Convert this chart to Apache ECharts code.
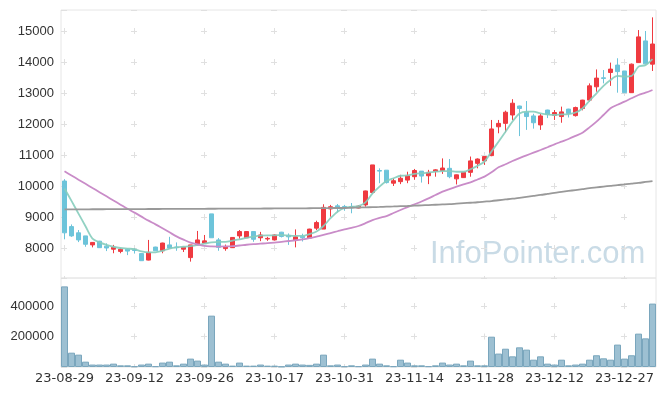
<!DOCTYPE html>
<html><head><meta charset="utf-8">
<script src="https://cdn.jsdelivr.net/npm/echarts@6/dist/echarts.min.js"></script>
<style>html,body{margin:0;padding:0;background:#fff}#c{width:665px;height:396px}</style>
</head><body><div id="c"></div>
<script>
const dates = ['23-08-29','23-08-30','23-08-31','23-09-01','23-09-04','23-09-05','23-09-06','23-09-07','23-09-08','23-09-11',
'23-09-12','23-09-13','23-09-14','23-09-15','23-09-18','23-09-19','23-09-20','23-09-21','23-09-22','23-09-25',
'23-09-26','23-09-27','23-10-04','23-10-05','23-10-06','23-10-10','23-10-11','23-10-12','23-10-13','23-10-16',
'23-10-17','23-10-18','23-10-19','23-10-20','23-10-23','23-10-24','23-10-25','23-10-26','23-10-27','23-10-30',
'23-10-31','23-11-01','23-11-02','23-11-03','23-11-06','23-11-07','23-11-08','23-11-09','23-11-10','23-11-13',
'23-11-14','23-11-15','23-11-16','23-11-17','23-11-20','23-11-21','23-11-22','23-11-23','23-11-24','23-11-27',
'23-11-28','23-11-29','23-11-30','23-12-01','23-12-04','23-12-05','23-12-06','23-12-07','23-12-08','23-12-11',
'23-12-12','23-12-13','23-12-14','23-12-15','23-12-18','23-12-19','23-12-20','23-12-21','23-12-22','23-12-26',
'23-12-27','23-12-28','24-01-02','24-01-03','24-01-04'];

const opens = [10160,8690,8490,8390,8100,8220,8060,7960,7890,7960,
7940,7820,7610,8030,7910,8100,8030,7960,7690,8100,
8160,9100,8260,7980,8010,8390,8330,8530,8330,8290,
8260,8510,8410,8260,8380,8320,8640,8610,9260,9360,
9340,9330,9290,9390,9790,10500,10510,10090,10140,10190,
10300,10480,10330,10470,10500,10570,10230,10270,10440,10730,
10810,10980,11910,12020,12290,12580,12380,12260,11970,12450,
12280,12240,12480,12270,12500,12770,13200,13490,13660,13900,
13710,13010,13980,14680,13930];
const closes = [8490,8390,8260,8120,8180,8010,8000,8020,7960,7900,
7920,7590,7860,7910,8160,8000,8010,8020,8100,8260,
8230,8330,8020,8040,8340,8530,8530,8280,8420,8310,
8420,8370,8360,8360,8330,8610,8820,9310,9330,9290,
9290,9300,9350,9840,10680,10480,10110,10170,10250,10330,
10500,10320,10440,10520,10580,10300,10360,10440,10810,10870,
10950,11840,12020,12380,12670,12500,12240,12040,12260,12310,
12370,12390,12340,12530,12770,13230,13480,13470,13770,13690,
13010,13930,14810,13940,14580];
const lows = [8280,8360,8190,8040,8020,8000,7900,7830,7830,7770,
7820,7590,7600,7910,7830,7990,7910,7870,7560,8090,
8150,8330,7910,7910,8000,8300,8330,8200,8220,8230,
8240,8340,8100,8020,8210,8320,8580,8610,9010,9150,
9200,9120,9280,9330,9750,10090,10080,10000,10060,10090,
10200,10110,10060,10300,10390,10250,10050,10260,10300,10570,
10680,10960,11700,11730,12130,11610,11810,11850,11810,12190,
12130,12040,12210,12240,12440,12720,13040,13310,13230,13010,
13010,13000,13970,13930,13710];
const highs = [10220,8760,8580,8390,8190,8230,8150,8100,8000,7980,
7990,7830,8260,8040,8170,8360,8180,8040,8100,8550,
8420,9100,8320,8110,8350,8580,8540,8530,8520,8360,
8440,8520,8470,8600,8460,8620,8880,9410,9390,9420,
9390,9450,9380,9850,10680,10570,10510,10250,10360,10460,
10550,10480,10520,10540,10890,10870,10370,10450,10950,10890,
10960,12130,12130,12430,12800,12590,12740,12330,12330,12460,
12450,12560,12490,12560,12780,13310,13760,13740,13980,14120,
13710,13950,15030,15000,15440];
const volumes = [529000,94000,81000,35000,16000,16000,16000,22000,11000,11000,
5000,16000,22000,5000,29000,35000,11000,22000,55000,42000,
16000,337000,35000,22000,9000,29000,9000,9000,16000,9000,
9000,3000,16000,22000,16000,14000,22000,81000,11000,16000,
5000,11000,5000,16000,55000,22000,11000,5000,48000,29000,
11000,11000,5000,11000,29000,16000,22000,11000,42000,11000,
11000,199000,88000,120000,70000,129000,114000,48000,70000,22000,
16000,48000,11000,16000,22000,48000,77000,57000,48000,147000,
55000,77000,219000,188000,416000];
const ma5 = [9920,9520,9110,8700,8300,8180,8100,8040,8000,7980,
7960,7890,7860,7860,7910,7980,8020,8040,8060,8100,
8140,8180,8200,8200,8240,8280,8330,8370,8400,8410,
8410,8420,8400,8390,8390,8450,8530,8710,8960,9170,
9290,9330,9350,9470,9760,9980,10160,10250,10330,10340,
10390,10410,10430,10460,10480,10480,10460,10460,10540,10650,
10790,11110,11430,11750,12080,12340,12400,12400,12340,12310,
12290,12310,12320,12370,12500,12750,12990,13230,13420,13550,
13530,13550,13850,13900,14090];
const ma20 = [10474,10339,10204,10070,9935,9801,9667,9532,9398,9263,
9140,9011,8882,8763,8634,8505,8376,8269,8172,8118,
8065,8050,8045,8050,8060,8080,8105,8125,8140,8155,
8175,8200,8225,8250,8280,8320,8370,8420,8480,8540,
8600,8650,8710,8800,8900,8970,9030,9130,9226,9320,
9409,9500,9600,9710,9817,9900,9978,10050,10118,10210,
10301,10440,10602,10700,10806,10900,10989,11075,11161,11250,
11344,11430,11516,11615,11720,11890,12075,12290,12505,12620,
12720,12830,12935,13010,13097];
const ma120 = [9245,9246,9247,9248,9249,9250,9251,9252,9253,9254,
9255,9256,9257,9258,9259,9260,9261,9262,9263,9264,
9265,9266,9267,9268,9269,9270,9271,9272,9273,9274,
9275,9276,9277,9278,9280,9282,9284,9286,9288,9290,
9290,9298,9305,9312,9318,9325,9333,9340,9348,9355,
9365,9375,9385,9395,9405,9415,9430,9445,9460,9475,
9495,9515,9540,9565,9590,9620,9650,9680,9710,9745,
9780,9810,9840,9870,9900,9930,9955,9980,10005,10030,
10050,10075,10100,10130,10160];
const priceTickLabels = [8000,9000,10000,11000,12000,13000,14000,15000];
const volumeTickLabels = [200000,400000];

const candles = dates.map((d, i) => [opens[i], closes[i], lows[i], highs[i]]);
const UP = '#ef3a40', DOWN = '#6dc4da';
const labelFont = {color:'#333', fontSize:13, fontFamily:'"Liberation Sans", Arial, sans-serif'};
const crossColor = '#e0e0e0';

const chart = echarts.init(document.getElementById('c'), null, {renderer:'canvas'});
chart.setOption({
  animation:false,
  backgroundColor:'#fff',
  grid:[
    {left:61, top:10, width:595, height:268, show:true, borderColor:'#e6e6e6', borderWidth:1},
    {left:61, top:278, width:595, height:89, show:true, borderColor:'#e6e6e6', borderWidth:1}
  ],
  graphic:[{type:'text', left:430, top:239, silent:true,
    style:{text:'InfoPointer.com', fill:'#c9dbe6', font:'31px "Liberation Sans", Arial, sans-serif'}}],
  xAxis:[
    {type:'category', gridIndex:0, data:dates, boundaryGap:true,
     axisLine:{show:false}, axisTick:{show:false}, axisLabel:{show:false},
     splitLine:{show:true, interval:9, alignWithLabel:true, lineStyle:{color:crossColor, width:1, type:[6,25], dashOffset:13}}},
    {type:'category', gridIndex:1, data:dates, boundaryGap:true,
     axisLine:{show:false}, axisTick:{show:false},
     axisLabel:{interval:9, margin:5, color:'#333', fontSize:13, fontFamily:'"DejaVu Sans", sans-serif'},
     splitLine:{show:true, interval:9, alignWithLabel:true, lineStyle:{color:crossColor, width:1, type:[6,24.5], dashOffset:5.5}}}
  ],
  yAxis:[
    {type:'value', gridIndex:0, min:7032, max:15677, minInterval:1000, maxInterval:1000, scale:true,
     axisLine:{show:false}, axisTick:{show:false},
     axisLabel:Object.assign({margin:7, formatter:v => priceTickLabels.indexOf(v) >= 0 ? String(v) : ''}, labelFont),
     splitLine:{show:true, lineStyle:{color:crossColor, width:1, type:[6,64], dashOffset:0}}},
    {type:'value', gridIndex:1, min:0, max:584000, minInterval:200000, maxInterval:200000,
     axisLine:{show:false}, axisTick:{show:false},
     axisLabel:Object.assign({margin:7, formatter:v => volumeTickLabels.indexOf(v) >= 0 ? String(v) : ''}, labelFont),
     splitLine:{show:true, lineStyle:{color:crossColor, width:1, type:[6,64], dashOffset:0}}}
  ],
  series:[
    {type:'candlestick', xAxisIndex:0, yAxisIndex:0, data:candles, barWidth:5,
     itemStyle:{color:UP, color0:DOWN, borderColor:UP, borderColor0:DOWN, borderWidth:1}},
    {type:'line', xAxisIndex:0, yAxisIndex:0, data:ma5, smooth:0.3, symbol:'none',
     lineStyle:{color:'#86cdbd', width:1.8, opacity:0.9}, z:3},
    {type:'line', xAxisIndex:0, yAxisIndex:0, data:ma20, smooth:0.3, symbol:'none',
     lineStyle:{color:'#c98cc8', width:1.8}, z:3},
    {type:'line', xAxisIndex:0, yAxisIndex:0, data:ma120, smooth:0.3, symbol:'none',
     lineStyle:{color:'#999999', width:1.8}, z:3},
    {type:'bar', xAxisIndex:1, yAxisIndex:1, data:volumes, barCategoryGap:'0%',
     itemStyle:{color:'#9dc0d2', borderColor:'#7aa6bd', borderWidth:1}}
  ]
});
</script></body></html>
